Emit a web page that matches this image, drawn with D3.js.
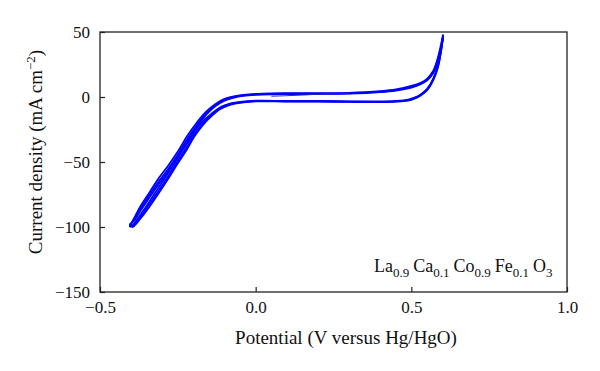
<!DOCTYPE html>
<html>
<head>
<meta charset="utf-8">
<script src="https://cdn.jsdelivr.net/npm/d3@7"></script>
<style>
  body { margin: 0; background: #fff; }
  svg text { font-family: "Liberation Serif", "Times New Roman", serif; }
</style>
</head>
<body>
<svg id="chart"></svg>
<script>
// potential grid (V) for the forward (anodic) sweep
var anodicPotential = [-0.405, -0.39, -0.37, -0.34, -0.31, -0.28, -0.25, -0.22, -0.19, -0.16, -0.13, -0.10, -0.07, -0.04, 0.0, 0.05, 0.1, 0.2, 0.3, 0.4, 0.45, 0.5, 0.53, 0.55, 0.57, 0.585, 0.595, 0.602];
// current density (mA cm-2) on the anodic sweep, one list per cycle
var anodic1 = [-100, -93, -84, -73, -62, -52.5, -42, -30, -20, -11.5, -5.5, -1.5, 0.5, 1.6, 2.4, 2.8, 2.9, 2.9, 3.2, 4.5, 5.8, 8.5, 11, 14, 20, 30, 40, 48];
var anodic2 = [-99, -94, -86, -75, -64.5, -55, -44.5, -32.5, -22, -13, -6.5, -2.2, 0, 1.2, 2.0, 2.4, 2.5, 2.6, 2.9, 4.1, 5.3, 7.8, 10.3, 13.2, 19, 28.5, 38, 46.5];
var anodic3 = [-98, -95, -87.5, -77, -66.5, -57, -46.5, -34.5, -23.5, -14, -7.2, -2.8, -0.4, 0.9, 1.7, 2.1, 2.2, 2.3, 2.6, 3.8, 5, 7.3, 9.8, 12.6, 18.2, 27.5, 37, 46];

// potential grid for the reverse (cathodic) sweep
var cathodicPotential = [0.602, 0.595, 0.585, 0.57, 0.55, 0.53, 0.51, 0.49, 0.45, 0.4, 0.3, 0.2, 0.1, 0.0, -0.05, -0.08, -0.10, -0.12, -0.14, -0.16, -0.18, -0.20, -0.22, -0.25, -0.28, -0.31, -0.34, -0.36, -0.38, -0.395, -0.405];
var cathodic1 = [48, 36, 24, 14, 6, 2, -0.5, -2, -3, -3.4, -3.3, -3, -3, -2.9, -3.8, -5, -6.5, -8.8, -12.5, -16.5, -21.5, -28, -35.5, -46.5, -58, -69, -80, -87, -94, -98.5, -100];
var cathodic2 = [46.5, 35, 23, 13.2, 5.4, 1.5, -0.9, -2.4, -3.4, -3.7, -3.6, -3.3, -3.3, -3.2, -4.2, -5.5, -7.2, -9.6, -13.5, -18, -23.5, -30, -38, -49, -60.5, -71.5, -82, -89, -95.5, -99.5, -99];
var cathodic3 = [46, 34.5, 22.5, 12.8, 5, 1.2, -1.2, -2.7, -3.6, -3.9, -3.8, -3.5, -3.5, -3.4, -4.5, -5.9, -7.7, -10.2, -14.3, -19, -24.8, -31.5, -40, -51, -62.5, -73.5, -84, -90.5, -96.5, -100, -98];

// first sweep starts from open circuit
var startPotential = [0.05, 0.1, 0.15, 0.2, 0.3];
var startCurrent = [0.6, 1.0, 1.5, 2.1, 2.9];

var xTicks = [-0.5, 0.0, 0.5, 1.0];
var yTicks = [-150, -100, -50, 0, 50];

var screen = { width: 600, height: 371 };
var margins = { top: 32, bottom: 79, left: 100, right: 33 };
var width = screen.width - margins.left - margins.right;
var height = screen.height - margins.top - margins.bottom;

var xScale = d3.scaleLinear().domain([-0.5, 1.0]).range([0, width]);
var yScale = d3.scaleLinear().domain([-150, 50]).range([height, 0]);

var svg = d3.select('#chart')
  .attr('width', screen.width)
  .attr('height', screen.height);

var plot = svg.append('g')
  .attr('transform', 'translate(' + margins.left + ',' + margins.top + ')');

var zip = function(xs, ys) {
  return xs.map(function(x, i) { return { v: x, j: ys[i] }; });
};

var line = d3.line()
  .x(function(d) { return xScale(d.v); })
  .y(function(d) { return yScale(d.j); })
  .curve(d3.curveCatmullRom);

var sweeps = [
  zip(anodicPotential, anodic1), zip(cathodicPotential, cathodic1),
  zip(anodicPotential, anodic2), zip(cathodicPotential, cathodic2),
  zip(anodicPotential, anodic3), zip(cathodicPotential, cathodic3)
];

plot.selectAll('path.sweep')
  .data(sweeps)
  .enter()
  .append('path')
  .attr('class', 'sweep')
  .attr('d', line)
  .attr('fill', 'none')
  .attr('stroke', '#0000ff')
  .attr('stroke-width', 1.8);

plot.append('path')
  .datum(zip(startPotential, startCurrent))
  .attr('d', line)
  .attr('fill', 'none')
  .attr('stroke', '#2a2a9a')
  .attr('stroke-width', 1);

// axes with inward ticks
var xAxis = d3.axisBottom(xScale)
  .tickValues(xTicks)
  .tickFormat(d3.format('.1f'))
  .tickSizeInner(-5)
  .tickSizeOuter(0)
  .tickPadding(9);
var yAxis = d3.axisLeft(yScale)
  .tickValues(yTicks)
  .tickFormat(d3.format('d'))
  .tickSizeInner(-5)
  .tickSizeOuter(0)
  .tickPadding(10);

var gx = plot.append('g').attr('transform', 'translate(0,' + height + ')').call(xAxis);
var gy = plot.append('g').call(yAxis);
[gx, gy].forEach(function(g) {
  g.attr('font-family', '"Liberation Serif", serif').attr('font-size', 17);
  g.select('.domain').remove();
  g.selectAll('line').attr('stroke', '#222').attr('stroke-width', 1.2);
  g.selectAll('text').attr('fill', '#111');
});

// frame
plot.append('rect')
  .attr('x', 0).attr('y', 0)
  .attr('width', width).attr('height', height)
  .attr('fill', 'none')
  .attr('stroke', '#222')
  .attr('stroke-width', 1.3);

// axis titles
svg.append('text')
  .attr('x', 346)
  .attr('y', 344)
  .attr('text-anchor', 'middle')
  .attr('font-size', 19)
  .attr('fill', '#111')
  .text('Potential (V versus Hg/HgO)');

var yLabel = svg.append('text')
  .attr('transform', 'translate(42,152) rotate(-90)')
  .attr('text-anchor', 'middle')
  .attr('font-size', 19)
  .attr('fill', '#111');
yLabel.append('tspan').text('Current density (mA cm');
yLabel.append('tspan').attr('dy', -7).attr('font-size', 13).text('\u22122');
yLabel.append('tspan').attr('dy', 7).text(')');

// compound label
var formula = [['La', '0.9'], ['Ca', '0.1'], ['Co', '0.9'], ['Fe', '0.1'], ['O', '3']];
var label = svg.append('text')
  .attr('x', 374)
  .attr('y', 272)
  .attr('font-size', 18)
  .attr('fill', '#111');
formula.forEach(function(p, i) {
  label.append('tspan').attr('dx', i == 0 ? 0 : 4).attr('dy', i == 0 ? 0 : -4.5).text(p[0]);
  label.append('tspan').attr('dy', 4.5).attr('font-size', 13).text(p[1]);
});
</script>
</body>
</html>
